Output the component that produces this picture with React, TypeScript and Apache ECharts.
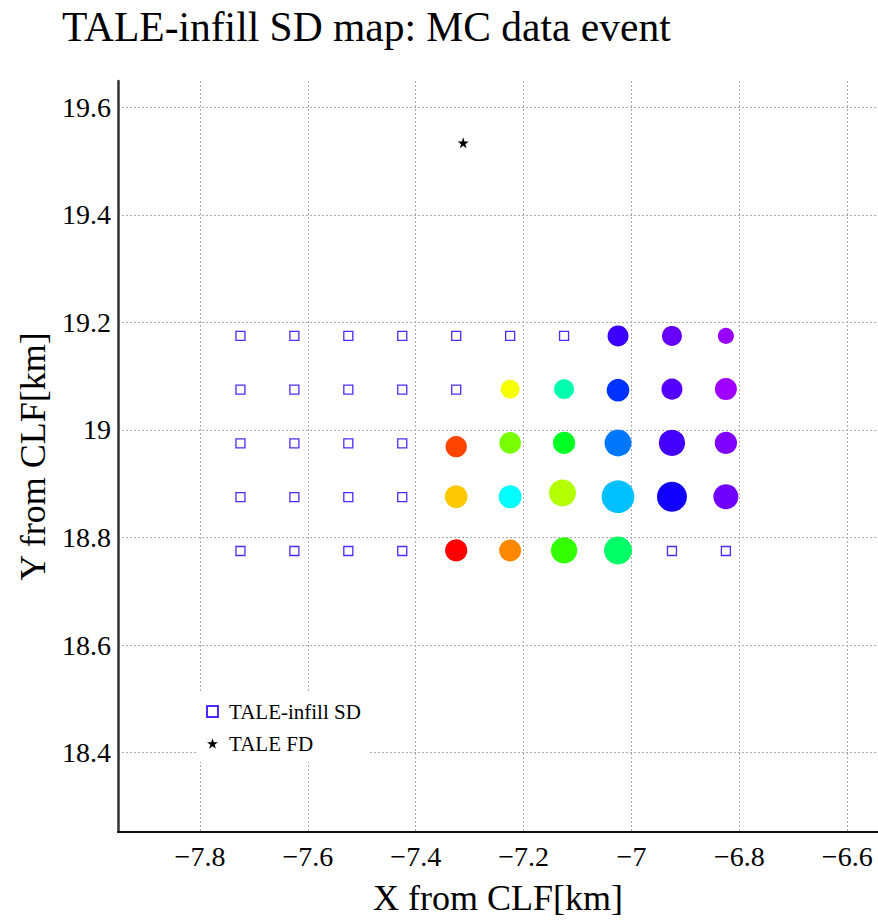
import React, { useEffect, useRef } from "react";
import * as echarts from "echarts";

// Tick labels
const xTicks = [-7.8, -7.6, -7.4, -7.2, -7.0, -6.8, -6.6];
const yTicks = [18.4, 18.6, 18.8, 19.0, 19.2, 19.4, 19.6];

// SD array layout (km from CLF)
const sdColumns = [-7.725, -7.625, -7.525, -7.425, -7.325, -7.225, -7.125, -7.025, -6.925, -6.825];
const sdRows = [19.175, 19.075, 18.975, 18.875, 18.775];

// Hit SDs: position, charge (VEM) and relative timing (us)
const hitX = [
  -7.025, -6.925, -6.825,
  -7.225, -7.125, -7.025, -6.925, -6.825,
  -7.325, -7.225, -7.125, -7.025, -6.925, -6.825,
  -7.325, -7.225, -7.128, -7.025, -6.925, -6.825,
  -7.325, -7.225, -7.125, -7.025,
];
const hitY = [
  19.175, 19.175, 19.175,
  19.076, 19.076, 19.074, 19.076, 19.076,
  18.969, 18.976, 18.976, 18.976, 18.976, 18.976,
  18.876, 18.876, 18.883, 18.876, 18.876, 18.876,
  18.776, 18.776, 18.776, 18.776,
];
const hitCharge = [
  14.6, 13.2, 8.5,
  11.9, 13.2, 17.0, 14.6, 16.0,
  15.0, 15.6, 16.4, 24.1, 22.9, 16.4,
  17.0, 17.5, 24.1, 35.3, 29.8, 20.7,
  16.4, 16.0, 22.9, 25.9,
];
const hitTime = [
  6.35, 6.6, 6.9,
  1.56, 4.03, 5.7, 6.5, 6.94,
  0.4, 2.3, 3.2, 5.3, 6.4, 6.75,
  1.18, 4.5, 1.95, 4.87, 6.1, 6.66,
  0.0, 0.8, 2.7, 3.6,
];

// TALE FD position
const fdX = [-7.312];
const fdY = [19.534];

const SERIF = "'Liberation Serif', 'Times New Roman', serif";
const STAR = "path://M50,0L61.2,34.5L97.6,34.5L68.2,55.9L79.4,90.5L50,69.1L20.6,90.5L31.8,55.9L2.4,34.5L38.8,34.5Z";

function hueToHex(h: number): string {
  const f = (n: number) => {
    const k = (n + h / 60) % 6;
    const v = 1 - Math.max(0, Math.min(k, 4 - k, 1));
    return Math.round(v * 255).toString(16).padStart(2, "0");
  };
  return "#" + f(5) + f(3) + f(1);
}

function timeColor(t: number): string {
  return hueToHex((t / 7) * 280);
}

function fmt(v: number): string {
  const r = Math.round(v * 100) / 100;
  const s = String(Math.abs(r));
  return r < 0 ? "\u2212" + s : s;
}

export default function App() {
  const ref = useRef<HTMLDivElement>(null);
  useEffect(() => {
    document.body.style.margin = "0";
    if (!ref.current) return;
    const chart = echarts.init(ref.current, undefined, { renderer: "svg" });

    const sdData: number[][] = [];
    sdRows.forEach((y) => sdColumns.forEach((x) => sdData.push([x, y])));

    const hitData = hitX.map((x, i) => ({
      value: [x, hitY[i], hitCharge[i], hitTime[i]],
      symbolSize: 5.5 * Math.sqrt(hitCharge[i]),
      itemStyle: { color: timeColor(hitTime[i]), opacity: 1 },
    }));

    const option: any = {
      animation: false,
      backgroundColor: "#fff",
      title: {
        text: "TALE-infill SD map: MC data event",
        left: 57,
        top: 1,
        textStyle: { fontFamily: SERIF, fontSize: 41.5, fontWeight: "normal", color: "#000" },
      },
      legend: {
        orient: "vertical",
        left: 196,
        top: 693,
        backgroundColor: "#fff",
        padding: [8, 8, 8, 10],
        itemWidth: 11,
        itemHeight: 11,
        itemGap: 11,
        data: ["TALE-infill SD", "TALE FD"],
        textStyle: { fontFamily: SERIF, fontSize: 21, color: "#000", padding: [0, 0, 0, 6] },
      },
      grid: { left: 118, right: 0, top: 81, bottom: 86, containLabel: false },
      xAxis: {
        type: "value",
        min: -7.952,
        max: -6.543,
        name: "X from CLF[km]",
        nameLocation: "middle",
        nameGap: 48,
        nameTextStyle: { fontFamily: SERIF, fontSize: 36, color: "#000" },
        axisLine: { show: true, onZero: false, lineStyle: { color: "#111", width: 2 } },
        axisTick: { show: false, customValues: xTicks },
        axisLabel: {
          customValues: xTicks,
          formatter: (v: number) => fmt(v),
          fontFamily: SERIF,
          fontSize: 28,
          color: "#000",
          margin: 10,
        },
        splitLine: { show: true, lineStyle: { type: [2, 2], color: "#aaa", width: 1 } },
      },
      yAxis: {
        type: "value",
        min: 18.2524,
        max: 19.649,
        name: "Y from CLF[km]",
        nameLocation: "middle",
        nameGap: 66,
        nameTextStyle: { fontFamily: SERIF, fontSize: 36, color: "#000" },
        axisLine: { show: true, onZero: false, lineStyle: { color: "#333", width: 2.5 } },
        axisTick: { show: false, customValues: yTicks },
        axisLabel: {
          customValues: yTicks,
          formatter: (v: number) => fmt(v),
          fontFamily: SERIF,
          fontSize: 28,
          color: "#000",
          margin: 7,
        },
        splitLine: { show: true, lineStyle: { type: [2, 2], color: "#aaa", width: 1 } },
      },
      series: [
        {
          name: "TALE-infill SD",
          type: "scatter",
          symbol: "rect",
          symbolSize: 9,
          data: sdData,
          z: 2,
          itemStyle: { color: "#fff", borderColor: "#4a2cff", borderWidth: 1.3, opacity: 1 },
        },
        {
          name: "TALE FD",
          type: "scatter",
          symbol: STAR,
          symbolSize: 11,
          data: fdX.map((x, i) => [x, fdY[i]]),
          z: 2,
          itemStyle: { color: "#000", opacity: 1 },
        },
        {
          name: "hits",
          type: "scatter",
          symbol: "circle",
          data: hitData,
          z: 3,
        },
      ],
    };
    chart.setOption(option);
    return () => chart.dispose();
  }, []);
  return <div ref={ref} style={{ width: 878, height: 921 }} />;
}
